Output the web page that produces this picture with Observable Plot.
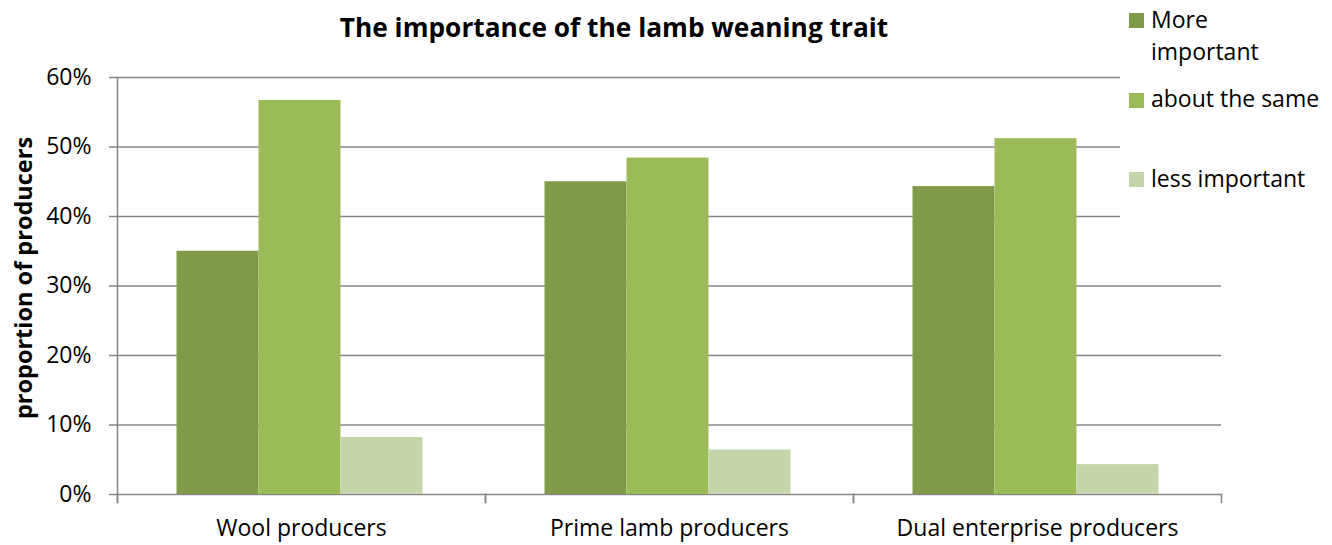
<!DOCTYPE html>
<html>
<head>
<meta charset="utf-8">
<script src="https://cdn.jsdelivr.net/npm/d3@7"></script>
<script src="https://cdn.jsdelivr.net/npm/@observablehq/plot@0.6"></script>
<style>
  html, body { margin: 0; padding: 0; background: #fff; }
  #wrap { position: relative; width: 1332px; height: 545px; font-family: "Open Sans", sans-serif; color: #000; }
  #title { position: absolute; left: 0; width: 1228px; top: 9px; text-align: center; font-weight: bold; font-size: 26.3px; line-height: 36px; }
  #ylabel { position: absolute; left: 23px; top: 278px; transform: translate(-50%, -50%) rotate(-90deg); font-weight: bold; font-size: 23.5px; white-space: nowrap; }
  #legend { position: absolute; left: 1120px; top: 0; width: 212px; height: 250px; background: #fff; }
  .sw { position: absolute; left: 9px; width: 15px; height: 15px; }
  .lt { position: absolute; left: 31px; font-size: 23px; line-height: 32px; white-space: nowrap; }
  svg { display: block; }
</style>
</head>
<body>
<div id="wrap">
  <div id="chart"></div>
  <div id="title">The importance of the lamb weaning trait</div>
  <div id="ylabel">proportion of producers</div>
  <div id="legend"></div>
</div>
<script>
const categories = ["Wool producers", "Prime lamb producers", "Dual enterprise producers"];
const series = ["More important", "about the same", "less important"];
const moreImportant = [0.350, 0.450, 0.443];
const aboutTheSame = [0.567, 0.484, 0.512];
const lessImportant = [0.082, 0.064, 0.043];
const yTicks = [0, 0.1, 0.2, 0.3, 0.4, 0.5, 0.6];
const colors = ["#7F9A48", "#9BBB59", "#C4D6A9"];
const legendLines = [["More", "important"], ["about the same"], ["less important"]];

const seriesValues = [moreImportant, aboutTheSame, lessImportant];
const data = [];
categories.forEach((c, i) => series.forEach((s, j) => data.push({category: c, series: s, value: seriesValues[j][i]})));

const W = 1332, H = 545, mT = 77, mB = 51, mL = 116, mR = 111;
const plotH = H - mT - mB;
const gridColor = "#868686";

const chart = Plot.plot({
  width: W, height: H,
  marginTop: mT, marginBottom: mB, marginLeft: mL, marginRight: mR,
  style: {fontFamily: "Open Sans, sans-serif", fontSize: "23px", color: "#000", background: "#fff"},
  fx: {domain: categories, padding: 0, label: null, axis: null},
  x: {domain: series, paddingInner: 0, paddingOuter: 0.74, axis: null},
  y: {domain: [0, 0.6], label: null, axis: null},
  color: {domain: series, range: colors},
  marks: [
    Plot.gridY(yTicks, {stroke: gridColor, strokeOpacity: 1, strokeWidth: 1.5}),
    Plot.barY(data, {fx: "category", x: "series", y: "value", fill: "series", dx: -1.5}),
    Plot.axisY(yTicks, {tickSize: 8, tickPadding: 18, tickFormat: d3.format(".0%"), stroke: gridColor, strokeWidth: 1.5, label: null, fill: "#000"}),
    Plot.axisFx({anchor: "bottom", tickSize: 0, tickPadding: 25, label: null, fill: "#000"}),
    Plot.frame({anchor: "left", insetTop: plotH, insetBottom: -8, stroke: gridColor, strokeWidth: 1.5}),
    Plot.frame({anchor: "right", insetTop: plotH, insetBottom: -8, stroke: gridColor, strokeWidth: 1.5}),
    Plot.frame({anchor: "left", facet: "super", insetBottom: -8, stroke: gridColor, strokeWidth: 1.5})
  ]
});
document.getElementById("chart").appendChild(chart);

const legend = document.getElementById("legend");
const swTops = [13, 93, 172];
const txtTops = [3, 82, 162];
series.forEach((s, j) => {
  const sw = document.createElement("div");
  sw.className = "sw";
  sw.style.top = swTops[j] + "px";
  sw.style.background = colors[j];
  legend.appendChild(sw);
  const t = document.createElement("div");
  t.className = "lt";
  t.style.top = txtTops[j] + "px";
  t.innerHTML = legendLines[j].join("<br>");
  legend.appendChild(t);
});
</script>
</body>
</html>
